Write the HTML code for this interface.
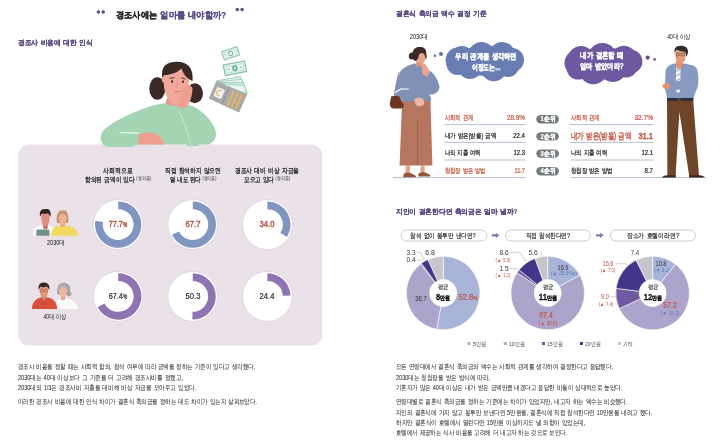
<!DOCTYPE html>
<html lang="ko"><head><meta charset="utf-8"><title>경조사에는 얼마를 내야할까?</title>
<style>
html,body{margin:0;padding:0;background:#fff}
body{width:720px;height:443px;overflow:hidden;position:relative;font-family:"Liberation Sans",sans-serif}
svg{position:absolute;left:0;top:0}
#txt{position:absolute;left:0;top:0;width:720px;height:443px;will-change:transform}
.t{position:absolute;white-space:nowrap;line-height:1.2;word-spacing:0.1em}
</style></head><body>
<svg width="720" height="443" viewBox="0 0 720 443">
<rect x="18.3" y="144.5" width="304.1" height="201.1" rx="11" fill="#eae2e8"/>
<g id="woman-money">
 <!-- hair buns -->
 <ellipse cx="157.3" cy="88.5" rx="8" ry="11.2" fill="#3a2925"/>
 <ellipse cx="194.8" cy="93.2" rx="8.2" ry="10" fill="#3a2925"/>
 <!-- sweater -->
 <path d="M109 146.9 C101.5 146.5 99 139 102 132.5 C105 126 128 113.5 150 106.5 C156 104.5 162 103.5 166 103 L189 105 C200 108 212 119 215.6 131 C217 137 214.5 141.5 209 144.5 L138 144.5 L131 146.9 Z" fill="#a3d5b3"/>
 <!-- neck -->
 <path d="M167.5 96 L165.6 103.8 Q171 106.4 177.5 105.8 L184 105 L184 96 Z" fill="#e8998a"/>
 <!-- face -->
 <path d="M163.8 76 C163 88 165.5 97 171 102.5 C175 106.5 180 105.5 184 101 C188.5 95 189.5 86 189 77 C188 68 183 65.5 176 65.5 C168 65.5 164.2 69 163.8 76 Z" fill="#f3a999"/>
 <!-- ear -->
 <ellipse cx="163.6" cy="79.5" rx="1.8" ry="3" fill="#f3a999"/>
 <!-- hair top -->
 <path d="M162.3 78 C160.5 66 167 61.8 177 61.8 C188 61.8 193.5 68 192.6 81 C188 79.5 183.5 75 181.5 68.5 C177 73 170 75.2 164.5 75 C163.5 76 163 77 162.3 78 Z" fill="#3a2925"/>
 <!-- eyes / brows / mouth -->
 <ellipse cx="172.2" cy="81.6" rx="0.9" ry="1.3" fill="#2b1d1b"/>
 <ellipse cx="183" cy="81.8" rx="0.9" ry="1.3" fill="#2b1d1b"/>
 <path d="M170 78.2 L174.2 77.6 M181.5 77.8 L185.2 79" stroke="#2b1d1b" stroke-width="0.8" stroke-linecap="round" fill="none"/>
 <path d="M174.5 91.5 Q177.5 92.8 180 91" stroke="#c46a5c" stroke-width="0.7" fill="none" stroke-linecap="round"/>
 <path d="M177.3 82 L176.3 87.5 L178 87.8" stroke="#dc8a7c" stroke-width="0.6" fill="none"/>
 <!-- hand on cheek -->
 <path d="M182 88 C184 85.5 188 85 191.5 86.5 C193 88 192.5 92 191.5 96 C190.5 101 188 106.5 184.5 108.5 L177.5 107.5 C178 103 179.5 100 181 97 C181.5 94 181 91 182 88 Z" fill="#f0a091"/>
 <!-- sleeve of raised arm -->
 <path d="M177 107 L185.5 108.5 C190 118 196 133 199 146 L187 146 C185 132 181 117 177 107 Z" fill="#a3d5b3"/>
 <path d="M178.6 110.5 C184 121 188.5 134 190.3 144.5" stroke="#d4efdc" stroke-width="0.7" fill="none"/>
 <!-- hand on table -->
 <path d="M139 134.5 C143 132 151 131.8 156 134 C160 136 163.5 140 164.6 144.5 L137.5 144.5 Z" fill="#f0a091"/>
 <path d="M148 137 Q152 140 153 144.5 M153 136 Q157 139.5 158.5 144.5" stroke="#e08a7c" stroke-width="0.5" fill="none"/>
 <!-- pencil -->
 <path d="M120 132.6 L138.5 133.2" stroke="#fff" stroke-width="1" stroke-linecap="round"/>
</g>
<g id="money">
 <!-- bill 1 -->
 <g transform="translate(230.6 53.4) rotate(-19)">
  <rect x="-8" y="-4.3" width="16" height="8.6" fill="#eef7f3" stroke="#8cc5b1" stroke-width="1.1"/>
  <rect x="-6.2" y="-2.6" width="12.4" height="5.2" fill="none" stroke="#a9d4c5" stroke-width="0.5"/>
  <circle r="2" fill="#f4faf7" stroke="#6fb39d" stroke-width="1"/>
  <circle cx="-4.6" r="0.6" fill="#8cc5b1"/><circle cx="4.6" r="0.6" fill="#8cc5b1"/>
 </g>
 <!-- bill 2 -->
 <g transform="translate(234.9 68.2) rotate(-11)">
  <rect x="-10.8" y="-5.4" width="21.6" height="10.8" fill="#eaf5f0" stroke="#7fbfa9" stroke-width="1.2"/>
  <rect x="-8.6" y="-3.3" width="17.2" height="6.6" fill="none" stroke="#9fd0bf" stroke-width="0.6"/>
  <circle r="2.8" fill="#62b09a"/>
  <circle r="1.1" fill="#e4f3ed"/>
  <circle cx="-6" r="0.8" fill="#7fbfa9"/><circle cx="6" r="0.8" fill="#7fbfa9"/>
 </g>
 <!-- bills fanning out of wallet -->
 <path d="M216.5 81 L240.5 76.4 L247 93 L243 101 Z" fill="#dcefe8" stroke="#86c2ae" stroke-width="0.8"/>
 <path d="M217 81.8 L242 79.4 L246.6 93 Z" fill="#f2f9f6" stroke="#86c2ae" stroke-width="0.7"/>
 <path d="M217.5 82.6 L243.4 82.4 L246.6 93.4 Z" fill="#cfe8df" stroke="#86c2ae" stroke-width="0.7"/>
 <path d="M218 83.6 L244.6 85.6 L246.6 93.8 Z" fill="#eaf5f0" stroke="#86c2ae" stroke-width="0.6"/>
 <!-- wallet -->
 <path d="M216.4 81 L247.2 94.2 L239 112.4 L208.6 98.4 Z" fill="#a8a9ab"/>
 <path d="M229.6 86.8 L221.8 104.6" stroke="#8b8c8f" stroke-width="0.9"/>
 <g transform="translate(219.2 93) rotate(24)">
  <rect x="-4.2" y="-5" width="8.4" height="10" rx="0.8" fill="#f1efe9"/>
  <path d="M1.6 -2.3 A2.7 2.7 0 1 0 1.6 2.3" stroke="#e3b35f" stroke-width="1.1" fill="none"/>
 </g>
 <g stroke="#e2b566" stroke-width="2.3">
  <path d="M234 90.8 L227.4 105.6"/><path d="M238 92.6 L231.4 107.4"/><path d="M242 94.4 L235.4 109.2"/>
 </g>
</g>

<g id="av2030">
 <!-- man: white shirt -->
 <path d="M32.5 235.8 C32.5 229 35.5 226.2 41 225.6 L49 225.6 C52 226 53.5 228 53.5 235.8 Z" fill="#fbfbfb"/>
 <!-- neck/face -->
 <path d="M43 222 L43 228 Q45.3 230.5 47.8 228 L47.8 222 Z" fill="#c97866"/>
 <path d="M41.3 214.5 C41 221 42 225.5 45.3 226.3 C48.8 225.5 49.8 221 49.4 214.5 C48.5 211.5 42.5 211.5 41.3 214.5 Z" fill="#dd8e7c"/>
 <!-- hair -->
 <path d="M40.2 216.6 C38.8 211.5 41.5 208.6 45.5 209.2 C49 208.4 51.5 211 50.6 216.8 C49.6 215.2 48.8 213.8 47.6 213.2 C45.5 214 42.6 213.8 41.4 213.4 C41 214.5 40.8 215.6 40.2 216.6 Z" fill="#2c2220"/>
 <!-- laptop -->
 <path d="M36.6 229.6 L49.2 229.6 L49.6 235.8 L36.2 235.8 Z" fill="#6f908b"/>
 <!-- woman: yellow top -->
 <path d="M50.8 235.8 C51 229.5 54.5 226 60 225.4 L66.5 225.4 C72.5 226 78 229.5 78.8 235.8 Z" fill="#f3d861"/>
 <!-- hair back -->
 <path d="M56.8 222.8 C56 214.5 58 210.2 62.6 210.2 C67.4 210.2 69 214.5 68.2 222.8 C66.5 223.6 58.5 223.6 56.8 222.8 Z" fill="#c7946c"/>
 <!-- neck -->
 <path d="M60.6 221 L60.6 226 Q62.7 228 64.8 226 L64.8 221 Z" fill="#e3a383"/>
 <!-- face -->
 <path d="M58.8 215.5 C58.6 221 60 224 62.7 224.6 C65.5 224 66.8 221 66.6 215.5 C65.8 212.8 59.8 212.8 58.8 215.5 Z" fill="#ecb38f"/>
 <path d="M58.2 216.5 C58.6 213 60.5 211.8 63 212 C65.5 212 66.8 213.5 67.2 216.5 C65.5 215.2 64 214 62.8 213 C61.5 214.2 60 215.4 58.2 216.5 Z" fill="#c7946c"/>
</g>
<g id="av40">
 <!-- woman: white top (behind) -->
 <path d="M54 309 C54.5 303 58 299.2 62 298.4 L67 298.4 C72.5 299.2 77.4 303 77.9 309 Z" fill="#fbfbfb"/>
 <!-- woman hair -->
 <path d="M57.4 294.6 C56.4 287 58.8 282.8 63.6 282.8 C68.6 282.8 70.8 286.5 70 291.6 C71.8 291.8 72.2 295 70.2 296 C68.4 296.8 66.8 296 66.4 294.8 Z" fill="#a5a3a4"/>
 <path d="M61 293.6 L61 299.2 Q63 301 65.2 299.2 L65.2 293.6 Z" fill="#e0a38a"/>
 <path d="M58.9 288.8 C58.7 293.6 60.2 296.8 63 297.4 C65.9 296.8 67.2 293.6 66.9 288.8 C66.1 286 59.8 286 58.9 288.8 Z" fill="#edb79d"/>
 <path d="M58.2 290 C58.6 286.2 60.6 284.8 63.2 285 C66 285 67.4 286.6 67.6 290 C66 288.4 64.6 287.4 63.2 286.4 C61.8 287.6 60.2 289 58.2 290 Z" fill="#b5b3b4"/>
 <!-- man: red shirt -->
 <path d="M31.8 309 C32.2 302.5 35.5 298.4 41 297.4 L48 297.4 C53.5 298.4 56.8 302.5 57.4 309 Z" fill="#d9513d"/>
 <path d="M41.4 294 L41.4 299 L43.9 302 L46.4 299 L46.4 294 Z" fill="#cf7f66"/>
 <path d="M41 297.4 L43.9 302.4 L46.8 297.4" stroke="#c2432f" stroke-width="0.6" fill="none"/>
 <path d="M43.9 302.4 L43.9 309" stroke="#b83f2f" stroke-width="0.5"/>
 <path d="M39.6 288 C39.3 294 40.9 297.4 43.9 298 C47 297.4 48.5 294 48.2 288 C47.4 285 40.6 285 39.6 288 Z" fill="#e29a7e"/>
 <path d="M38.7 290 C37.8 285.2 40.2 282.4 44 282.6 C48 282.4 50 285.4 49.2 290 C48.4 288.4 47.6 287.2 46.6 286.6 C44.4 287.4 41.6 287.2 40.2 286.8 C39.8 287.8 39.4 289 38.7 290 Z" fill="#3a2620"/>
 <!-- glasses -->
 <g fill="none" stroke="#a3402f" stroke-width="0.5"><circle cx="41.9" cy="290.6" r="1.6"/><circle cx="46" cy="290.6" r="1.6"/></g>
</g>

<circle cx="118.2" cy="224.6" r="25" fill="#fff" stroke="#d9cfdb" stroke-width="0.8"/>
<path d="M118.20 201.40A23.2 23.2 0 1 1 95.33 220.68L103.02 222.00A15.4 15.4 0 1 0 118.20 209.20Z" fill="#8195c1"/>
<circle cx="192.8" cy="224.6" r="25" fill="#fff" stroke="#d9cfdb" stroke-width="0.8"/>
<path d="M192.80 201.40A23.2 23.2 0 1 1 172.00 234.87L178.99 231.42A15.4 15.4 0 1 0 192.80 209.20Z" fill="#8195c1"/>
<circle cx="267.4" cy="224.6" r="25" fill="#fff" stroke="#d9cfdb" stroke-width="0.8"/>
<path d="M267.40 201.40A23.2 23.2 0 0 1 286.99 237.03L280.40 232.85A15.4 15.4 0 0 0 267.40 209.20Z" fill="#8195c1"/>
<circle cx="118.2" cy="296.4" r="25" fill="#fff" stroke="#d9cfdb" stroke-width="0.8"/>
<path d="M118.20 273.20A23.2 23.2 0 1 1 97.60 307.06L104.52 303.48A15.4 15.4 0 1 0 118.20 281.00Z" fill="#9073b3"/>
<circle cx="192.8" cy="296.4" r="25" fill="#fff" stroke="#d9cfdb" stroke-width="0.8"/>
<path d="M192.80 273.20A23.2 23.2 0 1 1 192.36 319.60L192.51 311.80A15.4 15.4 0 1 0 192.80 281.00Z" fill="#9073b3"/>
<circle cx="267.4" cy="296.4" r="25" fill="#fff" stroke="#d9cfdb" stroke-width="0.8"/>
<path d="M267.40 273.20A23.2 23.2 0 0 1 290.58 295.53L282.79 295.82A15.4 15.4 0 0 0 267.40 281.00Z" fill="#9073b3"/>
<path d="M444.5 124.6H525.6M570.4 124.6H653.8" stroke="#b2bfd0" stroke-width="1"/>
<path d="M444.5 142.4H525.6M570.4 142.4H653.8" stroke="#b2bfd0" stroke-width="1"/>
<path d="M444.5 160.0H525.6M570.4 160.0H653.8" stroke="#b2bfd0" stroke-width="1"/>
<path d="M393 177.6H525.6M570.4 177.6H705.5" stroke="#b2bfd0" stroke-width="1"/>
<g id="woman2030">
 <!-- pants -->
 <path d="M402.2 99 L430.4 99 L432.4 165.4 L399.6 165.4 Z" fill="#b6755e"/>
 <path d="M417.4 120 L417.4 165.4" stroke="#955946" stroke-width="0.7"/>
 <!-- ankles -->
 <rect x="405.6" y="165" width="4.4" height="8" fill="#e6a48d"/>
 <rect x="420.6" y="165" width="4" height="7.5" fill="#e6a48d"/>
 <!-- shoes -->
 <path d="M403.2 177.2 L403.6 174 Q406 171.6 410.5 173 L415.4 175.4 Q416.2 176.6 415.8 177.2 Z" fill="#96553f"/>
 <path d="M418.2 176.6 L418.6 173.4 Q421 171 425.3 172.4 L429.6 174.6 Q430.6 175.8 430 176.6 Z" fill="#96553f"/>
 <!-- bag strap -->
 <path d="M398.6 72 L394.2 96" stroke="#6d3524" stroke-width="0.5"/>
 <!-- sweater -->
 <path d="M414.4 63.4 C408 65 402.5 68 400 72 C396.5 79 394.6 88 394.2 95 L401.5 99.5 L402 101.5 L431 101 C431.5 98 430.5 96 429 94.5 C434 95 438.5 92.5 439.6 87.4 C438.5 80.5 434.5 74 430 70.5 L427.4 75.5 L424 74.5 L423 64.5 Z" fill="#8191b5"/>
 <!-- white clutch strap -->
 <path d="M395 92.6 L401 89 L408.8 89" stroke="#fff" stroke-width="1.2" fill="none" stroke-linejoin="round"/>
 <!-- bag -->
 <path d="M391.2 96.6 Q396 94.6 399.4 96.8 L403.6 104.5 Q404.4 107.4 401.6 108.6 L393.2 108.4 Q389.6 107.6 389.8 103.4 Z" fill="#6d3524"/>
 <!-- hand at waist -->
 <path d="M414.4 99.2 Q417.5 96.6 421.6 98 Q424.8 100 424.2 104.2 Q421.5 106.8 417.4 106 Q414 103.5 414.4 99.2 Z" fill="#f1b4a4"/>
 <!-- neck -->
 <path d="M416.6 59.5 L416 66 L422.6 67 L422.6 60 Z" fill="#dd937c"/>
 <!-- face -->
 <path d="M416 53.5 C415.6 58 417.2 62.8 420.6 63.8 C423.4 64 425 61.5 425.4 58.6 L426 57.2 L425.2 56 C425.2 54 424.6 52.4 423.6 51.4 Z" fill="#e8a690"/>
 <!-- hair -->
 <path d="M409 57.4 C408.2 54.2 410.4 52.4 412.6 52.6 C413 48.4 417 46.4 421 47 C425 47.4 426.8 50.4 426.2 53.6 C426.8 55.6 426.8 58 426.2 59.6 L425.4 58 C425.2 55.6 424.4 54 423 53.2 C420.6 52.6 419.2 54 418.8 55.6 C418.6 57.6 417.6 59.8 416.2 60.8 C414.8 61.2 413.4 60.2 413 59 C411.2 60 409.4 59.2 409 57.4 Z" fill="#3b2a27"/>
 <!-- hand at chin and forearm -->
 <path d="M421.4 64.2 Q423.6 62.6 425.4 64 Q427.4 67.5 429.8 71.4 L427.6 76.2 L422.6 74.6 Q422.4 69 421.4 64.2 Z" fill="#e8a690"/>
</g>
<g id="man40">
 <!-- pants -->
 <path d="M667 100 L693.2 100 L699 176 L689.2 176 L679.4 112 L675.6 176 L667.4 176 Z" fill="#6f4529"/>
 <!-- shoes -->
 <path d="M661.8 177.6 Q663 175.4 667.4 175.2 L675.8 175.2 L675.8 177.6 Z" fill="#3d2518"/>
 <path d="M689 175.2 L698.8 175.2 Q703.6 175.6 705 177.6 L689 177.6 Z" fill="#3d2518"/>
 <!-- jacket / shirt body -->
 <path d="M673.8 63.6 C669 65 666 67.5 665.6 71 L664.8 88 L667.4 98.4 L693.6 98.4 C694.4 94 696.6 90 698 86 C698.8 80 698.4 74 697.4 70 C696.6 67 694 65.6 691 65 L685 63.6 Z" fill="#8699c1"/>
 <!-- shirt/tie -->
 <path d="M676.2 66 L680.8 66 L680 92 L677.4 93 L675.6 90 Z" fill="#f3f5fa"/>
 <g stroke="#8497bf" stroke-width="0.9"><path d="M675.6 71.4 L681 69"/><path d="M675.6 76 L680.8 73.5"/><path d="M675.6 81 L680.6 78.5"/><path d="M675.4 86 L680.4 83.5"/></g>
 <!-- folded arm -->
 <path d="M664.8 84 C670 82.5 680 81 694 78 L697.6 86 C688 88.5 676 90.5 667 91 Z" fill="#8699c1"/>
 <path d="M668 83.6 C676 82 686 80 694 78" stroke="#7b8db6" stroke-width="0.4" fill="none"/>
 <!-- hand left -->
 <path d="M662.4 85 Q664.5 82.4 668.4 83 Q670.8 84.6 670.4 87.4 Q668 89.4 664.4 88.8 Q662 87.4 662.4 85 Z" fill="#e8906c"/>
 <!-- neck -->
 <path d="M676.8 58 L676.4 66.5 Q679 69 682.6 66 L682.8 58 Z" fill="#d68a6c"/>
 <!-- face -->
 <path d="M675.6 51.4 C675 56 675.8 60.8 678.4 63 C680.6 64.4 683.4 63.4 684.8 60.6 C685.8 58 686 54.4 685.6 51.6 C684 49.4 677.4 49.2 675.6 51.4 Z" fill="#e39b7d"/>
 <!-- hair -->
 <path d="M674.8 53 C673.4 48.4 676.6 45.6 680.8 45.8 C685.6 45.6 689 48.6 687.8 53.6 C687.4 55 686.8 56 686.2 56.8 C686.2 54.4 685.6 52.8 684.8 51.8 C682 51.4 678.6 50.6 676.6 49.8 C675.8 50.8 675.2 52 674.8 53 Z" fill="#2f2b2c"/>
 <!-- glasses -->
 <g fill="none" stroke="#3a3233" stroke-width="0.5"><rect x="676" y="53.2" width="3.4" height="2.6" rx="0.8"/><rect x="680.8" y="53.2" width="3.6" height="2.6" rx="0.8"/></g>
 <!-- hand at chin -->
 <path d="M676 61 Q678.6 60 680.6 61.8 Q682 64.6 681.4 68.6 L677 69.2 Q675.4 64.8 676 61 Z" fill="#e8906c"/>
 <!-- belt -->
 <rect x="667" y="98" width="26.4" height="2.8" fill="#2a2b3b"/>
 <rect x="677.6" y="98.3" width="3" height="2.2" fill="#6f4529"/>
</g>
<g id="bubble1" fill="#697db3">
 <ellipse cx="485" cy="61" rx="33" ry="15"/>
 <circle cx="458" cy="60" r="12.4"/><circle cx="462" cy="58" r="12"/><circle cx="481.5" cy="55" r="13.1"/>
 <circle cx="502" cy="55" r="13.1"/><circle cx="512" cy="60" r="12"/><circle cx="508" cy="66" r="11"/>
 <circle cx="493.8" cy="68" r="13.2"/><circle cx="470" cy="66.5" r="12.4"/><circle cx="457.5" cy="64" r="11"/>
 <circle cx="441" cy="54" r="2.05" fill="#606f9e"/><circle cx="434.9" cy="55.7" r="1.25" fill="#606f9e"/>
</g>
<g id="bubble2" fill="#6e589f">
 <ellipse cx="604" cy="63.5" rx="33" ry="16"/>
 <circle cx="577.5" cy="63" r="13"/><circle cx="581" cy="59" r="13"/><circle cx="602.4" cy="57" r="14.1"/>
 <circle cx="623.8" cy="58.2" r="12.5"/><circle cx="630.4" cy="61.5" r="12"/><circle cx="626" cy="66" r="11.5"/>
 <circle cx="613" cy="69" r="13"/><circle cx="593.2" cy="70.4" r="13.8"/><circle cx="578" cy="68" r="11.5"/>
 <circle cx="647.7" cy="57.6" r="2.1" fill="#64508f"/><circle cx="654.6" cy="59.4" r="1.3" fill="#64508f"/>
</g>

<rect x="536.3" y="115.1" width="22.6" height="8.4" rx="4.2" fill="#737b7f"/>
<rect x="536.3" y="132.20000000000002" width="22.6" height="8.4" rx="4.2" fill="#737b7f"/>
<rect x="536.3" y="149.4" width="22.6" height="8.4" rx="4.2" fill="#737b7f"/>
<rect x="536.3" y="167.0" width="22.6" height="8.4" rx="4.2" fill="#737b7f"/>
<rect x="401" y="230" width="85.80000000000001" height="11" rx="5.5" fill="#fff" stroke="#9a9a9a" stroke-width="0.5"/>
<rect x="505.4" y="230" width="85.0" height="11" rx="5.5" fill="#fff" stroke="#9a9a9a" stroke-width="0.5"/>
<rect x="610.3" y="230" width="85.10000000000002" height="11" rx="5.5" fill="#fff" stroke="#9a9a9a" stroke-width="0.5"/>
<path d="M491.8 234.2h4v-1.5l3.8 2.6l-3.8 2.6v-1.5h-4z" fill="#8878b3"/>
<path d="M596 234.2h4v-1.5l3.8 2.6l-3.8 2.6v-1.5h-4z" fill="#8878b3"/>
<path d="M443.20 256.20A36.8 36.8 0 1 1 436.76 329.23L440.84 306.29A13.5 13.5 0 1 0 443.20 279.50Z" fill="#a9b5d8" stroke="#fff" stroke-width="0.6" stroke-linejoin="round"/>
<path d="M436.76 329.23A36.8 36.8 0 0 1 420.65 263.92L434.93 282.33A13.5 13.5 0 0 0 440.84 306.29Z" fill="#ada4cc" stroke="#fff" stroke-width="0.6" stroke-linejoin="round"/>
<path d="M420.65 263.92A36.8 36.8 0 0 1 421.38 263.36L435.20 282.13A13.5 13.5 0 0 0 434.93 282.33Z" fill="#6f5aa2" stroke="#fff" stroke-width="0.6" stroke-linejoin="round"/>
<path d="M421.38 263.36A36.8 36.8 0 0 1 427.95 259.51L437.61 280.71A13.5 13.5 0 0 0 435.20 282.13Z" fill="#44358a" stroke="#fff" stroke-width="0.6" stroke-linejoin="round"/>
<path d="M427.95 259.51A36.8 36.8 0 0 1 443.20 256.20L443.20 279.50A13.5 13.5 0 0 0 437.61 280.71Z" fill="#c6c5ca" stroke="#fff" stroke-width="0.6" stroke-linejoin="round"/>
<path d="M547.70 256.20A36.8 36.8 0 0 1 579.84 275.07L559.49 286.42A13.5 13.5 0 0 0 547.70 279.50Z" fill="#a9b5d8" stroke="#fff" stroke-width="0.6" stroke-linejoin="round"/>
<path d="M579.84 275.07A36.8 36.8 0 1 1 517.01 272.70L536.44 285.55A13.5 13.5 0 1 0 559.49 286.42Z" fill="#ada4cc" stroke="#fff" stroke-width="0.6" stroke-linejoin="round"/>
<path d="M517.01 272.70A36.8 36.8 0 0 1 519.05 269.90L537.19 284.53A13.5 13.5 0 0 0 536.44 285.55Z" fill="#6f5aa2" stroke="#fff" stroke-width="0.6" stroke-linejoin="round"/>
<path d="M519.05 269.90A36.8 36.8 0 0 1 535.02 258.45L543.05 280.33A13.5 13.5 0 0 0 537.19 284.53Z" fill="#44358a" stroke="#fff" stroke-width="0.6" stroke-linejoin="round"/>
<path d="M535.02 258.45A36.8 36.8 0 0 1 547.70 256.20L547.70 279.50A13.5 13.5 0 0 0 543.05 280.33Z" fill="#c6c5ca" stroke="#fff" stroke-width="0.6" stroke-linejoin="round"/>
<path d="M652.60 256.20A36.8 36.8 0 0 1 675.70 264.35L661.07 282.49A13.5 13.5 0 0 0 652.60 279.50Z" fill="#a9b5d8" stroke="#fff" stroke-width="0.6" stroke-linejoin="round"/>
<path d="M675.70 264.35A36.8 36.8 0 1 1 619.30 308.67L640.38 298.75A13.5 13.5 0 1 0 661.07 282.49Z" fill="#ada4cc" stroke="#fff" stroke-width="0.6" stroke-linejoin="round"/>
<path d="M619.30 308.67A36.8 36.8 0 0 1 616.09 288.39L639.21 291.31A13.5 13.5 0 0 0 640.38 298.75Z" fill="#6f5aa2" stroke="#fff" stroke-width="0.6" stroke-linejoin="round"/>
<path d="M616.09 288.39A36.8 36.8 0 0 1 636.10 260.11L646.55 280.93A13.5 13.5 0 0 0 639.21 291.31Z" fill="#44358a" stroke="#fff" stroke-width="0.6" stroke-linejoin="round"/>
<path d="M636.10 260.11A36.8 36.8 0 0 1 652.60 256.20L652.60 279.50A13.5 13.5 0 0 0 646.55 280.93Z" fill="#c6c5ca" stroke="#fff" stroke-width="0.6" stroke-linejoin="round"/>
<path d="M416.7 252.3H420.4L425.4 261.5" stroke="#8a8a8a" stroke-width="0.4" fill="none"/>
<path d="M416.7 260.2H423.6" stroke="#8a8a8a" stroke-width="0.4" fill="none"/>
<path d="M510 252.3H520L526.5 262" stroke="#8a8a8a" stroke-width="0.4" fill="none"/>
<path d="M510 268.6H517.5L520 270.6" stroke="#8a8a8a" stroke-width="0.4" fill="none"/>
<path d="M615.5 263.8H626L627.6 265.6" stroke="#8a8a8a" stroke-width="0.4" fill="none"/>
<path d="M610 296.8H616" stroke="#8a8a8a" stroke-width="0.4" fill="none"/>
<path d="M541.6 252.2V255.6M434.3 252.6V255.8" stroke="#8a8a8a" stroke-width="0.4" fill="none"/>
<rect x="467.4" y="342" width="3" height="3" fill="#a9b5d8"/>
<rect x="503.7" y="342" width="3" height="3" fill="#ada4cc"/>
<rect x="541.9" y="342" width="3" height="3" fill="#6f5aa2"/>
<rect x="579.9" y="342" width="3" height="3" fill="#44358a"/>
<rect x="617.9" y="342" width="3" height="3" fill="#c6c5ca"/>
<g transform="translate(100.8 12.0)"><circle cx="-2.4" cy="0" r="1.75" fill="#5d4d85"/><path d="M-3.3 -1.2 Q-2.6 -2.8 -1.0999999999999999 -3.6" stroke="#b9b0cf" stroke-width="0.5" fill="none"/><circle cx="2.4" cy="0" r="1.75" fill="#5d4d85"/><path d="M1.5 -1.2 Q2.1999999999999997 -2.8 3.7 -3.6" stroke="#b9b0cf" stroke-width="0.5" fill="none"/></g>
<g transform="translate(239.7 9.4) rotate(180)"><circle cx="-2.4" cy="0" r="1.75" fill="#5d4d85"/><path d="M-3.3 -1.2 Q-2.6 -2.8 -1.0999999999999999 -3.6" stroke="#b9b0cf" stroke-width="0.5" fill="none"/><circle cx="2.4" cy="0" r="1.75" fill="#5d4d85"/><path d="M1.5 -1.2 Q2.1999999999999997 -2.8 3.7 -3.6" stroke="#b9b0cf" stroke-width="0.5" fill="none"/></g>
</svg>
<div id="txt">
<div class="t" style="left:170.75px;top:14.5px;font-size:8.8px;color:#222;font-weight:700;-webkit-text-stroke:0.26px;transform-origin:50% 50%;transform:translate(-50%,-50%) scaleX(0.921);">경조사에는 <span style="color:#5e4e87">얼마를 내야할까?</span></div>
<div class="t" style="left:17.5px;top:43.3px;font-size:6.8px;color:#5e4e87;font-weight:700;-webkit-text-stroke:0.20px;transform-origin:0 50%;transform:translate(0,-50%) scaleX(0.959);">경조사 비용에 대한 인식</div>
<div class="t" style="left:395.5px;top:13.5px;font-size:6.8px;color:#5e4e87;font-weight:700;-webkit-text-stroke:0.20px;transform-origin:0 50%;transform:translate(0,-50%) scaleX(0.963);">결혼식 축의금 액수 결정 기준</div>
<div class="t" style="left:395.5px;top:212.1px;font-size:6.8px;color:#5e4e87;font-weight:700;-webkit-text-stroke:0.20px;transform-origin:0 50%;transform:translate(0,-50%) scaleX(0.961);">지인이 결혼한다면 축의금은 얼마 낼까?</div>
<div class="t" style="left:118.2px;top:170.5px;font-size:7.2px;color:#2e2e2e;-webkit-text-stroke:0.32px;transform-origin:50% 50%;transform:translate(-50%,-50%) scaleX(0.843);">사회적으로</div>
<div class="t" style="left:118.2px;top:179.9px;font-size:7.2px;color:#2e2e2e;-webkit-text-stroke:0.32px;transform-origin:50% 50%;transform:translate(-50%,-50%) scaleX(0.810);">합의된 금액이 있다<span style="font-size:4.6px;font-weight:400;-webkit-text-stroke:0;position:relative;top:-2.2px"> (동의율)</span></div>
<div class="t" style="left:192.9px;top:170.5px;font-size:7.2px;color:#2e2e2e;-webkit-text-stroke:0.32px;transform-origin:50% 50%;transform:translate(-50%,-50%) scaleX(0.815);">직접 참석하지 않으면</div>
<div class="t" style="left:192.9px;top:179.9px;font-size:7.2px;color:#2e2e2e;-webkit-text-stroke:0.32px;transform-origin:50% 50%;transform:translate(-50%,-50%) scaleX(0.774);">덜 내도 된다<span style="font-size:4.6px;font-weight:400;-webkit-text-stroke:0;position:relative;top:-2.2px"> (동의율)</span></div>
<div class="t" style="left:267.2px;top:170.5px;font-size:7.2px;color:#2e2e2e;-webkit-text-stroke:0.32px;transform-origin:50% 50%;transform:translate(-50%,-50%) scaleX(0.818);">경조사 대비 비상 자금을</div>
<div class="t" style="left:267.2px;top:179.9px;font-size:7.2px;color:#2e2e2e;-webkit-text-stroke:0.32px;transform-origin:50% 50%;transform:translate(-50%,-50%) scaleX(0.793);">모으고 있다<span style="font-size:4.6px;font-weight:400;-webkit-text-stroke:0;position:relative;top:-2.2px"> (동의율)</span></div>
<div class="t" style="left:118.2px;top:224.6px;font-size:9.2px;color:#b2523f;-webkit-text-stroke:0.41px;transform-origin:50% 50%;transform:translate(-50%,-50%) scaleX(0.793);">77.7<span style='font-size:6.4px'>%</span></div>
<div class="t" style="left:192.8px;top:224.6px;font-size:9.2px;color:#b2523f;-webkit-text-stroke:0.41px;transform-origin:50% 50%;transform:translate(-50%,-50%) scaleX(0.827);">67.7</div>
<div class="t" style="left:267.4px;top:224.6px;font-size:9.2px;color:#b2523f;-webkit-text-stroke:0.41px;transform-origin:50% 50%;transform:translate(-50%,-50%) scaleX(0.827);">34.0</div>
<div class="t" style="left:118.2px;top:296.5px;font-size:9.2px;color:#2a2a2a;-webkit-text-stroke:0.21px;transform-origin:50% 50%;transform:translate(-50%,-50%) scaleX(0.793);">67.4<span style='font-size:6.4px'>%</span></div>
<div class="t" style="left:192.8px;top:296.5px;font-size:9.2px;color:#2a2a2a;-webkit-text-stroke:0.21px;transform-origin:50% 50%;transform:translate(-50%,-50%) scaleX(0.827);">50.3</div>
<div class="t" style="left:267.4px;top:296.5px;font-size:9.2px;color:#2a2a2a;-webkit-text-stroke:0.21px;transform-origin:50% 50%;transform:translate(-50%,-50%) scaleX(0.827);">24.4</div>
<div class="t" style="left:55.9px;top:243.0px;font-size:6.8px;color:#111;transform-origin:50% 50%;transform:translate(-50%,-50%) scaleX(0.814);">2030대</div>
<div class="t" style="left:54.9px;top:316.6px;font-size:6.8px;color:#111;transform-origin:50% 50%;transform:translate(-50%,-50%) scaleX(0.732);">40대 이상</div>
<div class="t" style="left:18px;top:366.8px;font-size:7px;color:#2e2e2e;-webkit-text-stroke:0.06px;transform-origin:0 50%;transform:translate(0,-50%) scaleX(0.779);">경조사 비용을 정할 때는 사회적 합의, 참석 여부에 따라 금액을 정하는 기준이 있다고 생각했다.</div>
<div class="t" style="left:18px;top:378.3px;font-size:7px;color:#2e2e2e;-webkit-text-stroke:0.06px;transform-origin:0 50%;transform:translate(0,-50%) scaleX(0.795);">2030대는 40대 이상보다 그 기준을 더 고려해 경조사비를 정했고,</div>
<div class="t" style="left:18px;top:388.2px;font-size:7px;color:#2e2e2e;-webkit-text-stroke:0.06px;transform-origin:0 50%;transform:translate(0,-50%) scaleX(0.798);">2030대의 1/3은 경조사비 지출을 대비해 비상 자금을 모아두고 있었다.</div>
<div class="t" style="left:18px;top:402.0px;font-size:7px;color:#2e2e2e;-webkit-text-stroke:0.06px;transform-origin:0 50%;transform:translate(0,-50%) scaleX(0.779);">이러한 경조사 비용에 대한 인식 차이가 결혼식 축의금을 정하는 데도 차이가 있는지 살펴보았다.</div>
<div class="t" style="left:396.3px;top:366.8px;font-size:7px;color:#2e2e2e;-webkit-text-stroke:0.06px;transform-origin:0 50%;transform:translate(0,-50%) scaleX(0.781);">모든 연령대에서 결혼식 축의금의 액수는 사회적 관계를 생각하여 결정한다고 응답했다.</div>
<div class="t" style="left:396.3px;top:378.3px;font-size:7px;color:#2e2e2e;-webkit-text-stroke:0.06px;transform-origin:0 50%;transform:translate(0,-50%) scaleX(0.788);">2030대는 청첩장을 받은 방식에 따라,</div>
<div class="t" style="left:396.3px;top:388.2px;font-size:7px;color:#2e2e2e;-webkit-text-stroke:0.06px;transform-origin:0 50%;transform:translate(0,-50%) scaleX(0.778);">기혼자가 많은 40대 이상은 내가 받은 금액만큼 내겠다고 응답한 비율이 상대적으로 높았다.</div>
<div class="t" style="left:396.3px;top:402.0px;font-size:7px;color:#2e2e2e;-webkit-text-stroke:0.06px;transform-origin:0 50%;transform:translate(0,-50%) scaleX(0.781);">연령대별로 결혼식 축의금을 정하는 기준에는 차이가 있었지만, 내고자 하는 액수는 비슷했다.</div>
<div class="t" style="left:396.3px;top:413.0px;font-size:7px;color:#2e2e2e;-webkit-text-stroke:0.06px;transform-origin:0 50%;transform:translate(0,-50%) scaleX(0.783);">지인의 결혼식에 가지 않고 봉투만 보낸다면 5만원을, 결혼식에 직접 참석한다면 10만원을 내려고 했다.</div>
<div class="t" style="left:396.3px;top:423.2px;font-size:7px;color:#2e2e2e;-webkit-text-stroke:0.06px;transform-origin:0 50%;transform:translate(0,-50%) scaleX(0.786);">하지만 결혼식이 호텔에서 열린다면 15만원 이상까지도 낼 의향이 있었는데,</div>
<div class="t" style="left:396.3px;top:433.2px;font-size:7px;color:#2e2e2e;-webkit-text-stroke:0.06px;transform-origin:0 50%;transform:translate(0,-50%) scaleX(0.772);">호텔에서 제공하는 식사 비용을 고려해 더 내고자 하는 것으로 보인다.</div>
<div class="t" style="left:418.8px;top:36.8px;font-size:6.8px;color:#111;transform-origin:50% 50%;transform:translate(-50%,-50%) scaleX(0.836);">2030대</div>
<div class="t" style="left:678.7px;top:36.9px;font-size:6.8px;color:#111;transform-origin:50% 50%;transform:translate(-50%,-50%) scaleX(0.755);">40대 이상</div>
<div class="t" style="left:485.6px;top:57.2px;font-size:8.2px;color:#fff;font-weight:700;-webkit-text-stroke:0.25px;transform-origin:50% 50%;transform:translate(-50%,-50%) scaleX(0.784);">우리 관계를 생각하면</div>
<div class="t" style="left:485.6px;top:67.8px;font-size:8.2px;color:#fff;font-weight:700;-webkit-text-stroke:0.25px;transform-origin:50% 50%;transform:translate(-50%,-50%) scaleX(0.742);">이정도는...</div>
<div class="t" style="left:601.9px;top:56.2px;font-size:8.2px;color:#fff;font-weight:700;-webkit-text-stroke:0.25px;transform-origin:50% 50%;transform:translate(-50%,-50%) scaleX(0.801);">내가 결혼할 때</div>
<div class="t" style="left:601.9px;top:67.2px;font-size:8.2px;color:#fff;font-weight:700;-webkit-text-stroke:0.25px;transform-origin:50% 50%;transform:translate(-50%,-50%) scaleX(0.773);">얼마 받았더라?</div>
<div class="t" style="left:444.5px;top:118.0px;font-size:6.7px;color:#c4533f;-webkit-text-stroke:0.24px;transform-origin:0 50%;transform:translate(0,-50%) scaleX(0.746);">사회적 관계</div>
<div class="t" style="left:524.7px;top:118.0px;font-size:6.8px;color:#c4533f;-webkit-text-stroke:0.21px;transform-origin:100% 50%;transform:translate(-100%,-50%) scaleX(0.934);">28.9%</div>
<div class="t" style="left:444.5px;top:135.8px;font-size:6.7px;color:#222;-webkit-text-stroke:0.24px;transform-origin:0 50%;transform:translate(0,-50%) scaleX(0.778);">내가 받은(받을) 금액</div>
<div class="t" style="left:524.7px;top:135.8px;font-size:6.8px;color:#222;-webkit-text-stroke:0.21px;transform-origin:100% 50%;transform:translate(-100%,-50%) scaleX(0.892);">22.4</div>
<div class="t" style="left:444.5px;top:153.2px;font-size:6.7px;color:#222;-webkit-text-stroke:0.24px;transform-origin:0 50%;transform:translate(0,-50%) scaleX(0.754);">나의 지출 여력</div>
<div class="t" style="left:524.7px;top:153.2px;font-size:6.8px;color:#222;-webkit-text-stroke:0.21px;transform-origin:100% 50%;transform:translate(-100%,-50%) scaleX(0.877);">12.3</div>
<div class="t" style="left:444.5px;top:170.6px;font-size:6.7px;color:#c4533f;-webkit-text-stroke:0.24px;transform-origin:0 50%;transform:translate(0,-50%) scaleX(0.749);">청첩장 받은 방법</div>
<div class="t" style="left:524.7px;top:170.6px;font-size:6.8px;color:#c4533f;-webkit-text-stroke:0.21px;transform-origin:100% 50%;transform:translate(-100%,-50%) scaleX(0.832);">11.7</div>
<div class="t" style="left:570.5px;top:118.0px;font-size:6.7px;color:#c4533f;-webkit-text-stroke:0.24px;transform-origin:0 50%;transform:translate(0,-50%) scaleX(0.759);">사회적 관계</div>
<div class="t" style="left:652.5px;top:118.0px;font-size:6.8px;color:#c4533f;-webkit-text-stroke:0.21px;transform-origin:100% 50%;transform:translate(-100%,-50%) scaleX(0.965);">32.7%</div>
<div class="t" style="left:570.5px;top:135.8px;font-size:8.6px;color:#c4533f;-webkit-text-stroke:0.39px;transform-origin:0 50%;transform:translate(0,-50%) scaleX(0.715);">내가 받은(받을) 금액</div>
<div class="t" style="left:652.5px;top:135.8px;font-size:8.6px;color:#c4533f;font-weight:700;-webkit-text-stroke:0.26px;transform-origin:100% 50%;transform:translate(-100%,-50%) scaleX(0.872);">31.1</div>
<div class="t" style="left:570.5px;top:153.2px;font-size:6.7px;color:#222;-webkit-text-stroke:0.24px;transform-origin:0 50%;transform:translate(0,-50%) scaleX(0.765);">나의 지출 여력</div>
<div class="t" style="left:652.5px;top:153.2px;font-size:6.8px;color:#222;-webkit-text-stroke:0.21px;transform-origin:100% 50%;transform:translate(-100%,-50%) scaleX(0.877);">12.1</div>
<div class="t" style="left:570.5px;top:170.6px;font-size:6.7px;color:#222;-webkit-text-stroke:0.24px;transform-origin:0 50%;transform:translate(0,-50%) scaleX(0.762);">청첩장 받은 방법</div>
<div class="t" style="left:652.5px;top:170.6px;font-size:6.8px;color:#222;-webkit-text-stroke:0.21px;transform-origin:100% 50%;transform:translate(-100%,-50%) scaleX(0.899);">8.7</div>
<div class="t" style="left:547.8px;top:119.4px;font-size:7px;color:#fff;font-weight:700;-webkit-text-stroke:0.21px;transform-origin:50% 50%;transform:translate(-50%,-50%) scaleX(0.827);">1순위</div>
<div class="t" style="left:547.8px;top:136.5px;font-size:7px;color:#fff;font-weight:700;-webkit-text-stroke:0.21px;transform-origin:50% 50%;transform:translate(-50%,-50%) scaleX(0.827);">2순위</div>
<div class="t" style="left:547.8px;top:153.7px;font-size:7px;color:#fff;font-weight:700;-webkit-text-stroke:0.21px;transform-origin:50% 50%;transform:translate(-50%,-50%) scaleX(0.827);">3순위</div>
<div class="t" style="left:547.8px;top:171.3px;font-size:7px;color:#fff;font-weight:700;-webkit-text-stroke:0.21px;transform-origin:50% 50%;transform:translate(-50%,-50%) scaleX(0.827);">4순위</div>
<div class="t" style="left:442.8px;top:235.5px;font-size:7.2px;color:#222;-webkit-text-stroke:0.16px;transform-origin:50% 50%;transform:translate(-50%,-50%) scaleX(0.797);">참석 없이 봉투만 낸다면?</div>
<div class="t" style="left:548.1px;top:235.5px;font-size:7.2px;color:#222;-webkit-text-stroke:0.16px;transform-origin:50% 50%;transform:translate(-50%,-50%) scaleX(0.795);">직접 참석한다면?</div>
<div class="t" style="left:653px;top:235.5px;font-size:7.2px;color:#222;-webkit-text-stroke:0.16px;transform-origin:50% 50%;transform:translate(-50%,-50%) scaleX(0.839);">장소가 호텔이라면?</div>
<div class="t" style="left:410.5px;top:252.5px;font-size:6.9px;color:#3a3a3a;transform-origin:50% 50%;transform:translate(-50%,-50%) scaleX(0.959);">3.3</div>
<div class="t" style="left:429.6px;top:252.5px;font-size:6.9px;color:#3a3a3a;transform-origin:50% 50%;transform:translate(-50%,-50%) scaleX(0.990);">6.8</div>
<div class="t" style="left:410.5px;top:260.4px;font-size:6.9px;color:#3a3a3a;transform-origin:50% 50%;transform:translate(-50%,-50%) scaleX(0.959);">0.4</div>
<div class="t" style="left:420.7px;top:299.3px;font-size:6.9px;color:#333;transform-origin:50% 50%;transform:translate(-50%,-50%) scaleX(0.849);">36.7</div>
<div class="t" style="left:467.6px;top:296.9px;font-size:8.8px;color:#c4533f;-webkit-text-stroke:0.20px;transform-origin:50% 50%;transform:translate(-50%,-50%) scaleX(0.868);">52.8<span style='font-size:5.6px'>%</span></div>
<div class="t" style="left:503.8px;top:252.5px;font-size:6.9px;color:#3a3a3a;transform-origin:50% 50%;transform:translate(-50%,-50%) scaleX(0.959);">8.6</div>
<div class="t" style="left:503.4px;top:260.3px;font-size:5.3px;color:#c4533f;transform-origin:50% 50%;transform:translate(-50%,-50%) scaleX(0.827);">(▲ 5.3)</div>
<div class="t" style="left:503.8px;top:268.7px;font-size:6.9px;color:#3a3a3a;transform-origin:50% 50%;transform:translate(-50%,-50%) scaleX(0.959);">1.5</div>
<div class="t" style="left:503.4px;top:275.4px;font-size:5.3px;color:#c4533f;transform-origin:50% 50%;transform:translate(-50%,-50%) scaleX(0.827);">(▲ 1.2)</div>
<div class="t" style="left:533px;top:252.5px;font-size:6.9px;color:#3a3a3a;transform-origin:50% 50%;transform:translate(-50%,-50%) scaleX(0.959);">5.6</div>
<div class="t" style="left:563.1px;top:268.0px;font-size:6.9px;color:#333;transform-origin:50% 50%;transform:translate(-50%,-50%) scaleX(0.820);">16.9</div>
<div class="t" style="left:563.6px;top:273.1px;font-size:5.3px;color:#4f7ec0;transform-origin:50% 50%;transform:translate(-50%,-50%) scaleX(0.904);">(▲ 35.9%p)</div>
<div class="t" style="left:546.4px;top:316.0px;font-size:8.2px;color:#c4533f;-webkit-text-stroke:0.18px;transform-origin:50% 50%;transform:translate(-50%,-50%) scaleX(0.853);">67.4</div>
<div class="t" style="left:548px;top:322.7px;font-size:5.3px;color:#c4533f;transform-origin:50% 50%;transform:translate(-50%,-50%) scaleX(0.877);">(▲ 30.6)</div>
<div class="t" style="left:635.2px;top:252.5px;font-size:6.9px;color:#3a3a3a;transform-origin:50% 50%;transform:translate(-50%,-50%) scaleX(0.886);">7.4</div>
<div class="t" style="left:608px;top:264.0px;font-size:7.2px;color:#c4533f;transform-origin:50% 50%;transform:translate(-50%,-50%) scaleX(0.786);">15.6</div>
<div class="t" style="left:607.6px;top:270.4px;font-size:5.3px;color:#c4533f;transform-origin:50% 50%;transform:translate(-50%,-50%) scaleX(0.805);">(▲ 7.0)</div>
<div class="t" style="left:604.6px;top:296.8px;font-size:7.2px;color:#c4533f;transform-origin:50% 50%;transform:translate(-50%,-50%) scaleX(0.780);">9.0</div>
<div class="t" style="left:605.6px;top:303.5px;font-size:5.3px;color:#c4533f;transform-origin:50% 50%;transform:translate(-50%,-50%) scaleX(0.805);">(▲ 7.4)</div>
<div class="t" style="left:660.6px;top:264.3px;font-size:6.9px;color:#333;transform-origin:50% 50%;transform:translate(-50%,-50%) scaleX(0.820);">10.8</div>
<div class="t" style="left:661.6px;top:269.6px;font-size:5.3px;color:#4f7ec0;transform-origin:50% 50%;transform:translate(-50%,-50%) scaleX(0.816);">(▼ 6.2)</div>
<div class="t" style="left:670.4px;top:305.9px;font-size:8.2px;color:#c4533f;-webkit-text-stroke:0.18px;transform-origin:50% 50%;transform:translate(-50%,-50%) scaleX(0.853);">57.2</div>
<div class="t" style="left:670.4px;top:312.9px;font-size:5.3px;color:#4f7ec0;transform-origin:50% 50%;transform:translate(-50%,-50%) scaleX(0.891);">(▼ 10.2)</div>
<div class="t" style="left:443.2px;top:287.4px;font-size:6.4px;color:#333;-webkit-text-stroke:0.14px;transform-origin:50% 50%;transform:translate(-50%,-50%) scaleX(0.900);">평균</div>
<div class="t" style="left:443.2px;top:296.6px;font-size:9.4px;color:#111;font-weight:700;-webkit-text-stroke:0.28px;transform-origin:50% 50%;transform:translate(-50%,-50%) scaleX(0.813);"><span style="font-size:9.4px">8</span><span style="font-size:5.8px">만원</span></div>
<div class="t" style="left:547.8px;top:287.4px;font-size:6.4px;color:#333;-webkit-text-stroke:0.14px;transform-origin:50% 50%;transform:translate(-50%,-50%) scaleX(0.900);">평균</div>
<div class="t" style="left:547.8px;top:296.6px;font-size:9.4px;color:#111;font-weight:700;-webkit-text-stroke:0.28px;transform-origin:50% 50%;transform:translate(-50%,-50%) scaleX(0.839);"><span style="font-size:9.4px">11</span><span style="font-size:5.8px">만원</span></div>
<div class="t" style="left:652.6px;top:287.4px;font-size:6.4px;color:#333;-webkit-text-stroke:0.14px;transform-origin:50% 50%;transform:translate(-50%,-50%) scaleX(0.900);">평균</div>
<div class="t" style="left:652.6px;top:296.6px;font-size:9.4px;color:#111;font-weight:700;-webkit-text-stroke:0.28px;transform-origin:50% 50%;transform:translate(-50%,-50%) scaleX(0.820);"><span style="font-size:9.4px">12</span><span style="font-size:5.8px">만원</span></div>
<div class="t" style="left:473px;top:343.6px;font-size:6.2px;color:#444;transform-origin:0 50%;transform:translate(0,-50%) scaleX(0.854);">5만원</div>
<div class="t" style="left:508.8px;top:343.6px;font-size:6.2px;color:#444;transform-origin:0 50%;transform:translate(0,-50%) scaleX(0.831);">10만원</div>
<div class="t" style="left:547px;top:343.6px;font-size:6.2px;color:#444;transform-origin:0 50%;transform:translate(0,-50%) scaleX(0.821);">15만원</div>
<div class="t" style="left:585px;top:343.6px;font-size:6.2px;color:#444;transform-origin:0 50%;transform:translate(0,-50%) scaleX(0.821);">20만원</div>
<div class="t" style="left:623px;top:343.6px;font-size:6.2px;color:#444;transform-origin:0 50%;transform:translate(0,-50%) scaleX(0.792);">기타</div>
</div>
</body></html>
